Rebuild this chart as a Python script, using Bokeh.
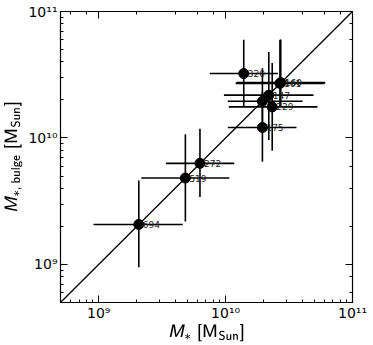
from bokeh.plotting import figure
from bokeh.models import ColumnDataSource, LogAxis, CustomJSTickFormatter
from bokeh.core.properties import value
from bokeh.embed import file_html
from bokeh.resources import INLINE

# galaxy IDs
labels = ["694", "519", "272", "320", "161", "160", "147", "", "229", "175"]
# total stellar mass M_* [M_Sun]
m_star = [2.07e9, 4.82e9, 6.28e9, 1.39e10, 2.68e10, 2.72e10, 2.19e10, 1.95e10, 2.33e10, 1.95e10]
m_star_lo = [9.1e8, 2.17e9, 3.39e9, 7.5e9, 1.20e10, 1.22e10, 9.7e9, 1.04e10, 1.06e10, 1.04e10]
m_star_hi = [4.6e9, 1.07e10, 1.17e10, 2.58e10, 6.0e10, 6.1e10, 4.93e10, 4.04e10, 5.3e10, 3.62e10]
# bulge stellar mass M_*,bulge [M_Sun]
m_bulge = [2.07e9, 4.82e9, 6.3e9, 3.23e10, 2.70e10, 2.74e10, 2.18e10, 1.95e10, 1.76e10, 1.21e10]
m_bulge_lo = [9.5e8, 2.19e9, 3.41e9, 1.76e10, 1.76e10, 1.78e10, 9.64e9, 1.09e10, 7.94e9, 6.5e9]
m_bulge_hi = [4.6e9, 1.07e10, 1.18e10, 5.98e10, 5.98e10, 6.0e10, 4.79e10, 3.56e10, 3.92e10, 2.32e10]
# one-to-one line
one_to_one = [5e8, 1e11]

src = ColumnDataSource(dict(x=m_star, xlo=m_star_lo, xhi=m_star_hi,
                            y=m_bulge, ylo=m_bulge_lo, yhi=m_bulge_hi, lab=labels))

p = figure(width=372, height=344, x_axis_type="log", y_axis_type="log",
           x_range=(5e8, 1e11), y_range=(5e8, 1e11),
           output_backend="svg", toolbar_location=None,
           min_border_left=60, min_border_right=20, min_border_top=11, min_border_bottom=41)
p.xgrid.visible = False
p.ygrid.visible = False
p.outline_line_color = "black"
p.outline_line_width = 1.2

p.line(one_to_one, one_to_one, line_color="black", line_width=1.3)
p.segment(x0="xlo", x1="xhi", y0="y", y1="y", source=src, line_color="black", line_width=1.6)
p.segment(x0="x", x1="x", y0="ylo", y1="yhi", source=src, line_color="black", line_width=1.6)
p.scatter(x="x", y="y", source=src, size=10, fill_color="black", line_color="black")
p.text(x="x", y="y", text="lab", source=src, x_offset=4, y_offset=0,
       text_baseline="alphabetic", text_font_size="9px", text_color="#222222",
       text_font=value("DejaVu Sans"))

sup_fmt = CustomJSTickFormatter(code="""
const sup = {'0':'\u2070','1':'\u00b9','2':'\u00b2','3':'\u00b3','4':'\u2074','5':'\u2075',
             '6':'\u2076','7':'\u2077','8':'\u2078','9':'\u2079','-':'\u207b'};
const e = Math.round(Math.log10(tick));
return '10' + String(e).split('').map(c => sup[c]).join('');
""")
blank_fmt = CustomJSTickFormatter(code="return '';")

def style(ax, show):
    ax.major_tick_in = 7
    ax.major_tick_out = 0
    ax.minor_tick_in = 3
    ax.minor_tick_out = 0
    ax.axis_line_color = "black"
    ax.major_label_text_font = "DejaVu Sans"
    ax.major_label_text_font_size = "14px"
    ax.major_label_text_color = "black"
    ax.axis_label_text_font_style = "normal"
    ax.axis_label_text_font_size = "15px"
    ax.axis_label_text_color = "black"
    ax.formatter = sup_fmt if show else blank_fmt
    if not show:
        ax.major_label_standoff = 0

for ax in p.below + p.left:
    style(ax, True)
p.xaxis.axis_label = r"$$\mathsfit{M}_{\mathsf{*}} \; \mathsf{[M_{Sun}]}$$"
p.yaxis.axis_label = r"$$\mathsfit{M}_{\mathsf{*,\,bulge}} \; \mathsf{[M_{Sun}]}$$"
p.xaxis.major_label_standoff = 2
p.yaxis.major_label_standoff = 3
p.xaxis.axis_label_standoff = 0
p.yaxis.axis_label_standoff = 3

top = LogAxis()
right = LogAxis()
style(top, False)
style(right, False)
p.add_layout(top, "above")
p.add_layout(right, "right")

open("out.html", "w").write(file_html(p, INLINE))
